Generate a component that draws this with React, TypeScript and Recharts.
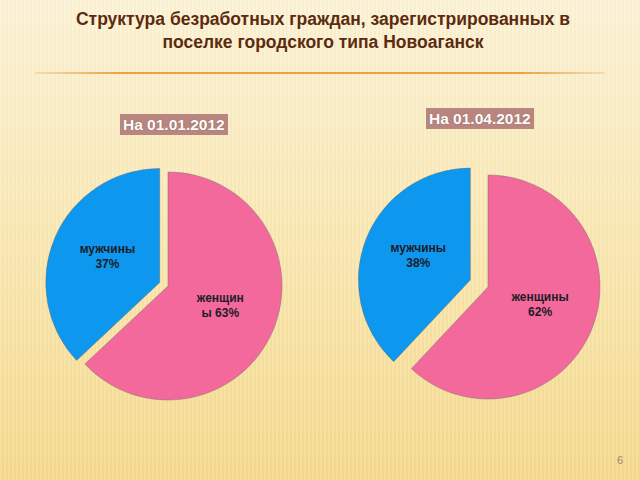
import { PieChart, Pie, Cell } from 'recharts';

const categories = ['женщины', 'мужчины'];
const jan2012 = [63, 37];
const apr2012 = [62, 38];
const janLabels = [['женщин', 'ы 63%'], ['мужчины', '37%']];
const aprLabels = [['женщины', '62%'], ['мужчины', '38%']];
const COLORS = ['#f4699b', '#0d97ee'];

const RAD = Math.PI / 180;

function toRows(values: number[]) {
  return categories.map((name, i) => ({ name, value: values[i] }));
}

// shift of the men's slice along its bisector (slide has it pulled out)
function explodeOffset(values: number[], dist: number) {
  const total = values.reduce((a, b) => a + b, 0);
  const startDeg = 90 - (values[0] / total) * 360;
  const mid = startDeg - ((values[1] / total) * 360) / 2;
  return { dx: dist * Math.cos(-mid * RAD), dy: dist * Math.sin(-mid * RAD) };
}

function makeLabel(lines: string[][], visible: number) {
  return (props: any) => {
    const { cx, cy, midAngle, outerRadius, index } = props;
    if (index !== visible) return null;
    const r = outerRadius * 0.5;
    const x = cx + r * Math.cos(-midAngle * RAD);
    const y = cy + r * Math.sin(-midAngle * RAD);
    const ls = lines[index];
    return (
      <text
        x={x}
        y={y - 7}
        textAnchor="middle"
        fill="#1c1c2a"
        fontSize={12}
        fontWeight="bold"
        fontFamily="Liberation Sans, Arial, sans-serif"
      >
        <tspan x={x} dy={0}>{ls[0]}</tspan>
        <tspan x={x} dy={15}>{ls[1]}</tspan>
      </text>
    );
  };
}

function ExplodedPie({ values, lines, cx, cy, r, dist }: { values: number[]; lines: string[][]; cx: number; cy: number; r: number; dist: number }) {
  const data = toRows(values);
  const { dx, dy } = explodeOffset(values, dist);
  return [0, 1].map((k) => (
    <Pie
      key={k}
      data={data}
      dataKey="value"
      nameKey="name"
      cx={k === 0 ? cx : cx + dx}
      cy={k === 0 ? cy : cy + dy}
      outerRadius={r}
      startAngle={90}
      endAngle={-270}
      isAnimationActive={false}
      labelLine={false}
      label={makeLabel(lines, k)}
    >
      {data.map((_, i) => (
        <Cell
          key={i}
          fill={i === k ? COLORS[i] : 'none'}
          stroke={i === k ? 'rgba(110,110,110,0.45)' : 'none'}
          strokeWidth={1}
        />
      ))}
    </Pie>
  ));
}

const badge = {
  position: 'absolute' as const,
  background: '#b8867e',
  color: '#fff',
  fontFamily: 'Liberation Sans, Arial, sans-serif',
  fontWeight: 'bold' as const,
  fontSize: 15.5,
  lineHeight: '21px',
  padding: '0 3px',
  textShadow: '0 0 1px rgba(80,40,40,0.5)',
};

export default function App() {
  return (
    <div
      style={{
        position: 'absolute',
        left: 0,
        top: 0,
        width: 640,
        height: 480,
        overflow: 'hidden',
        background:
          'repeating-linear-gradient(90deg, rgba(255,255,255,0.10) 0 2px, rgba(200,160,60,0.05) 2px 4px), linear-gradient(180deg, #fcf3d8 0%, #f9e8b4 50%, #f5d98e 100%)',
      }}
    >
      <div
        style={{
          position: 'absolute',
          left: 0,
          top: 8,
          width: 646,
          textAlign: 'center',
          color: '#5b2b10',
          fontFamily: 'Liberation Sans, Arial, sans-serif',
          fontWeight: 'bold',
          fontSize: 17.5,
          lineHeight: '23px',
        }}
      >
        Структура безработных граждан, зарегистрированных в
        <br />
        поселке городского типа Новоаганск
      </div>
      <div
        style={{
          position: 'absolute',
          left: 35,
          top: 72,
          width: 570,
          height: 2,
          background: 'linear-gradient(90deg, rgba(232,150,60,0.2), #e9a24a 15%, #e9a24a 85%, rgba(232,150,60,0.2))',
        }}
      />
      <div style={{ ...badge, left: 120, top: 114 }}>На 01.01.2012</div>
      <div style={{ ...badge, left: 426, top: 108 }}>На 01.04.2012</div>
      <div style={{ position: 'absolute', left: 0, top: 0 }}>
        <PieChart width={640} height={480} margin={{ top: 0, right: 0, bottom: 0, left: 0 }}>
          {ExplodedPie({ values: jan2012, lines: janLabels, cx: 168, cy: 286, r: 114, dist: 9 })}
          {ExplodedPie({ values: apr2012, lines: aprLabels, cx: 488, cy: 287, r: 112, dist: 19 })}
        </PieChart>
      </div>
      <div
        style={{
          position: 'absolute',
          left: 617,
          top: 454,
          color: '#9a8a70',
          fontFamily: 'Liberation Sans, Arial, sans-serif',
          fontSize: 11,
        }}
      >
        6
      </div>
    </div>
  );
}
